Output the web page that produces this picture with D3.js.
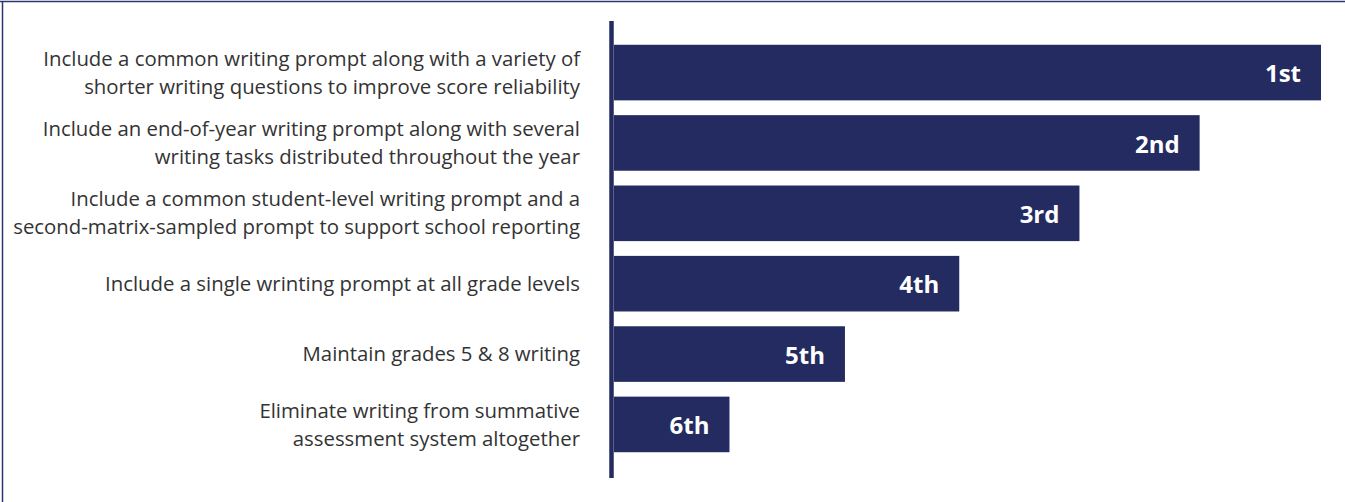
<!DOCTYPE html>
<html>
<head>
<meta charset="utf-8">
<script src="https://cdn.jsdelivr.net/npm/d3@7"></script>
<style>
  html, body { margin: 0; padding: 0; background: #fff; }
  svg { display: block; }
</style>
</head>
<body>
<svg id="chart" width="1345" height="502"></svg>
<script>
const categories = [
  ["Include a common writing prompt along with a variety of", "shorter writing questions to improve score reliability"],
  ["Include an end-of-year writing prompt along with several", "writing tasks distributed throughout the year"],
  ["Include a common student-level writing prompt and a", "second-matrix-sampled prompt to support school reporting"],
  ["Include a single wrinting prompt at all grade levels"],
  ["Maintain grades 5 & 8 writing"],
  ["Eliminate writing from summative", "assessment system altogether"]
];
const values = [6, 4.97, 3.95, 2.93, 1.96, 0.98];
const rankLabels = ["1st", "2nd", "3rd", "4th", "5th", "6th"];

const W = 1345, H = 502;
const navy = "#242b61";
const font = "'Open Sans', sans-serif";
const svg = d3.select("#chart");

// frame (top and left edges)
svg.append("line").attr("x1", 0).attr("x2", W).attr("y1", 1.5).attr("y2", 1.5)
  .attr("stroke", "#2e3472").attr("stroke-width", 1.5);
svg.append("line").attr("x1", 2.5).attr("x2", 2.5).attr("y1", 1).attr("y2", H)
  .attr("stroke", "#2e3472").attr("stroke-width", 1.5);

const x0 = 614;
const x = d3.scaleLinear().domain([0, 6]).range([x0, 1321]);
const idx = d3.range(categories.length);
const y = d3.scaleBand().domain(idx).range([30, 467]).paddingInner(0.21).paddingOuter(0.21);

svg.selectAll("rect.bar").data(idx).join("rect")
  .attr("class", "bar")
  .attr("x", x(0))
  .attr("y", i => y(i))
  .attr("width", i => x(values[i]) - x(0))
  .attr("height", y.bandwidth())
  .attr("fill", navy);

// axis line
svg.append("line").attr("x1", 611.5).attr("x2", 611.5).attr("y1", 21).attr("y2", 478)
  .attr("stroke", navy).attr("stroke-width", 4.5);

// category labels
let fontSize = 17;
const lineH = 28;
const lab = svg.append("g");
const probe = lab.append("text").attr("font-family", font).attr("font-size", fontSize).text(categories[0][0]);
const len = probe.node().getComputedTextLength();
probe.remove();
if (len > 0) fontSize = fontSize * 537 / len;

idx.forEach(i => {
  const lines = categories[i];
  const cy = y(i) + y.bandwidth() / 2;
  const t = lab.append("text")
    .attr("text-anchor", "end")
    .attr("font-family", font)
    .attr("font-size", fontSize)
    .attr("fill", "#333333");
  lines.forEach((l, k) => {
    t.append("tspan")
      .attr("x", 580)
      .attr("y", cy + (k - (lines.length - 1) / 2) * lineH)
      .attr("dy", "0.35em")
      .text(l);
  });
});

// rank labels
svg.selectAll("text.rank").data(idx).join("text")
  .attr("class", "rank")
  .attr("x", i => x(values[i]) - 20)
  .attr("y", i => y(i) + y.bandwidth() / 2 + 1)
  .attr("dy", "0.36em")
  .attr("text-anchor", "end")
  .attr("font-family", font)
  .attr("font-weight", "bold")
  .attr("font-size", 24)
  .attr("fill", "#ffffff")
  .text(i => rankLabels[i]);
</script>
</body>
</html>
